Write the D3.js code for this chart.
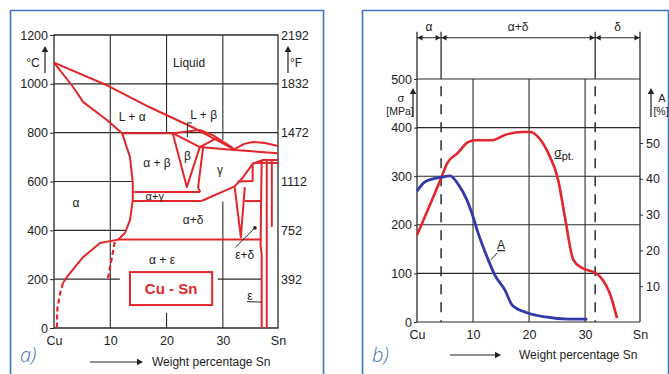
<!DOCTYPE html>
<html>
<head>
<meta charset="utf-8">
<script src="https://cdn.jsdelivr.net/npm/d3@7/dist/d3.min.js"></script>
<style>
  body { margin: 0; background: #fff; }
  svg { display: block; }
</style>
</head>
<body>
<svg id="fig"></svg>
<script>
const W = 669, H = 374;

// ---- panel a) Cu-Sn phase diagram (wt% Sn, °C) ----
const tempTicks = [0, 200, 400, 600, 800, 1000, 1200];
const fahrTemps = [200, 400, 600, 800, 1000, 1200];
const fahrLabels = ['392', '752', '1112', '1472', '1832', '2192'];
const wtTicks = [0, 10, 20, 30, 39.8];
const wtLabels = ['Cu', '10', '20', '30', 'Sn'];

// visible grid pieces: [T, wtFrom, wtTo] and [wt, Tfrom, Tto]
const gridH_a = [[1000, 0, 39.8], [800, 0, 39.8], [600, 0, 13.9], [400, 0, 12.6], [200, 0, 11.7], [200, 29.1, 36.9]];
const gridV_a = [[10, 0, 1200], [20, 800, 1200], [30, 770, 1200], [30, 0, 518]];

const phaseLines = [
  [[0, 1087], [9.6, 992], [17.1, 903], [25, 818], [32, 732]],                  // liquidus
  [[0, 1087], [3.4, 987], [5.2, 925], [9.4, 852], [12.1, 798]],                // solidus
  [[12.1, 798], [13.5, 700], [14.0, 594], [14.0, 524], [13.5, 442], [12.6, 389],
   [11.4, 362], [8.2, 348], [5.2, 291], [2.3, 209], [1.6, 184]],              // alpha solvus
  [[12.1, 798], [21.1, 798]],
  [[21.1, 798], [25.9, 811], [28.2, 790], [31.8, 737]],
  [[21.1, 798], [23.6, 577], [25.9, 741], [21.1, 798]],                        // beta
  [[26.5, 741], [25.6, 575], [26.0, 557]],
  [[25.9, 741], [28.9, 778]],
  [[25.9, 741], [32, 729], [39.8, 716]],
  [[32, 732], [33.8, 754], [35.3, 762], [37.5, 758], [39.8, 745]],
  [[14.0, 557], [25.9, 557]],
  [[14.0, 520], [26.2, 520]],
  [[26.2, 520], [32.1, 580], [33.5, 615], [35.3, 672], [37.1, 688], [39.8, 688]],
  [[35.3, 676], [39.8, 676]],
  [[32.1, 577], [33.2, 372], [33.9, 577]],                                     // delta wedge
  [[32.6, 600], [35.3, 602], [35.3, 672]],
  [[11.4, 362], [36.9, 362]],
  [[33.9, 520], [36.9, 520]],
  [[36.9, 0], [36.9, 300], [36.7, 340], [36.9, 688]],
  [[37.8, 0], [37.8, 688]],
  [[38.7, 414], [38.7, 688]]
];
const dashedLines = [
  [[1.6, 184], [1.1, 143], [0.6, 80], [0.5, 0]],
  [[10.8, 352], [9.6, 205]]
];
const phaseLabels = [
  ['Liquid', 24.0, 1085, 12], ['L + α', 13.9, 864, 12], ['L + β', 26.6, 872, 12], ['α + β', 18.3, 676, 12],
  ['β', 23.7, 705, 12], ['γ', 29.5, 647, 12], ['α', 3.9, 512, 12], ['α+γ', 17.9, 538, 11], ['α+δ', 24.7, 442, 12],
  ['α  +  ε', 19.2, 278, 12], ['ε+δ', 33.9, 300, 12], ['ε', 34.8, 130, 12]
];

// ---- panel b) properties ----
const sigmaTicks = [0, 100, 200, 300, 400, 500];
const aTicks = [10, 20, 30, 40, 50];
const phaseBounds = [4.3, 31.8];
const phaseNames = ['α', 'α+δ', 'δ'];
const sigmaWt = [0, 4.3, 5.4, 7.3, 9.1, 10.4, 13.4, 15.7, 18.8, 20.2, 21.6, 23.4, 25.2, 26.4, 27.9, 29.5, 31.8, 32.7, 34.5, 35.7];
const sigmaMPa = [179, 296, 327, 348, 370, 374, 374, 385, 391, 391, 381, 348, 292, 216, 128, 111, 101, 93, 56, 8];
const aWt = [0, 1.4, 4.5, 5.9, 7.3, 8.9, 9.8, 10.9, 12.5, 13.9, 15.7, 17.0, 19.8, 22.9, 27.0, 30.4];
const aPct = [36.5, 39.1, 40.5, 40.8, 38.6, 34.1, 30.4, 24.9, 18.2, 13.1, 8.9, 4.7, 2.5, 1.4, 0.8, 0.8];

const RED = '#e3262b', BLUE = '#3439a9', FRAME = '#3f74ba', INK = '#222', GRID = '#2b2b2b';
const FONT = '"Liberation Sans", Arial, sans-serif';

const svg = d3.select('#fig').attr('width', W).attr('height', H);
svg.append('rect').attr('width', W).attr('height', H).attr('fill', '#fff');

function arrowHead(g, x, y, dir, size) {
  const s = size || 5;
  let p;
  if (dir === 'up') p = [[x, y], [x - s * 0.55, y + s], [x + s * 0.55, y + s]];
  else if (dir === 'right') p = [[x, y], [x - s, y - s * 0.55], [x - s, y + s * 0.55]];
  else p = [[x, y], [x + s, y - s * 0.55], [x + s, y + s * 0.55]];
  g.append('path').attr('d', 'M' + p.join('L') + 'Z').attr('fill', INK);
}

function txt(g, x, y, s, anchor, size) {
  return g.append('text').attr('x', x).attr('y', y).attr('text-anchor', anchor || 'middle')
    .attr('dy', '0.35em').style('font-family', FONT).style('font-size', (size || 12) + 'px')
    .style('fill', INK).text(s);
}

function styleAxis(ax) {
  ax.select('.domain').remove();
  ax.selectAll('text').style('font-family', FONT).style('font-size', '12.5px').style('fill', INK);
  ax.selectAll('line').attr('stroke', GRID);
}

// ================= panel a =================
const ga = svg.append('g');
ga.append('path').attr('d', 'M10.5,374V10.5H323.5V374').attr('fill', 'none')
  .attr('stroke', FRAME).attr('stroke-width', 1.6);

const xa = d3.scaleLinear().domain([0, 39.8]).range([54, 278]);
const ya = d3.scaleLinear().domain([0, 1200]).range([328, 35]);

const gridA = ga.append('g').attr('stroke', GRID).attr('stroke-width', 1.1);
gridH_a.forEach(d => gridA.append('line').attr('x1', xa(d[1])).attr('x2', xa(d[2])).attr('y1', ya(d[0])).attr('y2', ya(d[0])));
gridV_a.forEach(d => gridA.append('line').attr('x1', xa(d[0])).attr('x2', xa(d[0])).attr('y1', ya(d[1])).attr('y2', ya(d[2])));
gridA.append('path').attr('fill', 'none').attr('stroke-width', 1.3)
  .attr('d', `M${xa(0)},${ya(0)}V${ya(1200)}H${xa(39.8)}V${ya(0)}H${xa(0)}`);

styleAxis(ga.append('g').attr('transform', `translate(${xa(0)},0)`)
  .call(d3.axisLeft(ya).tickValues(tempTicks).tickSize(4).tickPadding(2).tickFormat(d3.format('d'))));
styleAxis(ga.append('g').attr('transform', `translate(${xa(39.8)},0)`)
  .call(d3.axisRight(ya).tickValues(fahrTemps).tickSize(0).tickPadding(3)
    .tickFormat((d, i) => fahrLabels[i])));
styleAxis(ga.append('g').attr('transform', `translate(0,${ya(0) + 2})`)
  .call(d3.axisBottom(xa).tickValues(wtTicks).tickSize(0).tickPadding(6)
    .tickFormat((d, i) => wtLabels[i])));

// Cu - Sn box
ga.append('rect').attr('x', xa(13.5)).attr('y', ya(229)).attr('width', xa(28.1) - xa(13.5))
  .attr('height', ya(94) - ya(229)).attr('fill', '#fff').attr('stroke', RED).attr('stroke-width', 2);
ga.append('text').attr('x', (xa(13.5) + xa(28.1)) / 2).attr('y', ya(160)).attr('dy', '0.35em')
  .attr('text-anchor', 'middle').style('font-family', FONT).style('font-size', '15px')
  .style('font-weight', 'bold').style('fill', RED).text('Cu - Sn');
gridA.append('line').attr('x1', xa(20)).attr('x2', xa(20)).attr('y1', ya(62)).attr('y2', ya(0));

const lineA = d3.line().x(d => xa(d[0])).y(d => ya(d[1]));
const phase = ga.append('g').attr('fill', 'none').attr('stroke', RED).attr('stroke-width', 2)
  .attr('stroke-linejoin', 'round');
phaseLines.forEach(p => phase.append('path').attr('d', lineA(p)));
dashedLines.forEach(p => phase.append('path').attr('d', lineA(p)).attr('stroke-dasharray', '5,3').attr('stroke-width', 2.2));

phaseLabels.forEach(d => txt(ga, xa(d[1]), ya(d[2]), d[0], 'middle', d[3]));

// leaders
const lead = ga.append('g').attr('stroke', INK).attr('stroke-width', 1).attr('fill', 'none');
lead.append('path').attr('d', lineA([[23.7, 782], [23.7, 840], [24.5, 840]]));
lead.append('path').attr('d', lineA([[32.2, 330], [35.7, 410]]));
ga.append('circle').attr('cx', xa(35.7)).attr('cy', ya(410)).attr('r', 1.8).attr('fill', INK);
lead.append('path').attr('d', lineA([[34.3, 108], [36.9, 106]]));

// units
txt(ga, 33, 63, '°C', 'middle', 12);
ga.append('line').attr('x1', 45).attr('x2', 45).attr('y1', 73).attr('y2', 50).attr('stroke', INK).attr('stroke-width', 1.2);
arrowHead(ga, 45, 46, 'up', 6);
txt(ga, 296, 63, '°F', 'middle', 12);
ga.append('line').attr('x1', 288).attr('x2', 288).attr('y1', 73).attr('y2', 50).attr('stroke', INK).attr('stroke-width', 1.2);
arrowHead(ga, 288, 46, 'up', 6);

ga.append('text').attr('x', 20).attr('y', 362).style('font-family', '"Open Sans", Lato, sans-serif')
  .style('font-size', '20px').style('font-style', 'italic').style('font-weight', 300)
  .style('fill', FRAME).text('a)');
ga.append('line').attr('x1', 90).attr('x2', 138).attr('y1', 362).attr('y2', 362).attr('stroke', INK).attr('stroke-width', 1.2);
arrowHead(ga, 143, 362, 'right', 6);
txt(ga, 152, 362, 'Weight percentage Sn', 'start', 12);

// ================= panel b =================
const gb = svg.append('g');
gb.append('path').attr('d', 'M362.5,374V10.5H668.5V374').attr('fill', 'none')
  .attr('stroke', FRAME).attr('stroke-width', 1.6);

const xb = d3.scaleLinear().domain([0, 39.8]).range([417, 640]);
const ys = d3.scaleLinear().domain([0, 500]).range([322, 79]);
const yA = d3.scaleLinear().domain([0, 50]).range([322, 143]);

const gridB = gb.append('g').attr('stroke', GRID).attr('stroke-width', 1.1);
sigmaTicks.forEach(v => gridB.append('line').attr('x1', xb(0)).attr('x2', xb(39.8)).attr('y1', ys(v)).attr('y2', ys(v)));
[10, 20, 30].forEach(v => gridB.append('line').attr('x1', xb(v)).attr('x2', xb(v)).attr('y1', ys(0)).attr('y2', ys(500)));
const topY = ys(597), dimY = ys(585);
[0, 39.8].forEach(v => gridB.append('line').attr('x1', xb(v)).attr('x2', xb(v)).attr('y1', ys(0)).attr('y2', topY).attr('stroke-width', 1.3));
phaseBounds.forEach(v => {
  gridB.append('line').attr('x1', xb(v)).attr('x2', xb(v)).attr('y1', topY).attr('y2', ys(500)).attr('stroke-width', 1.3);
  gridB.append('line').attr('x1', xb(v)).attr('x2', xb(v)).attr('y1', ys(485)).attr('y2', ys(0))
    .attr('stroke-dasharray', '10,8').attr('stroke-width', 1.5);
});

// dimension line with phases
const edges = [0].concat(phaseBounds, [39.8]);
gridB.append('line').attr('x1', xb(0)).attr('x2', xb(39.8)).attr('y1', dimY).attr('y2', dimY);
edges.slice(0, -1).forEach((e, i) => {
  const a = xb(e), b = xb(edges[i + 1]);
  arrowHead(gb, a + 0.5, dimY, 'left', 5);
  arrowHead(gb, b - 0.5, dimY, 'right', 5);
  txt(gb, (a + b) / 2, 27, phaseNames[i], 'middle', 12);
});

styleAxis(gb.append('g').attr('transform', `translate(${xb(0)},0)`)
  .call(d3.axisLeft(ys).tickValues(sigmaTicks).tickSize(3).tickPadding(2)));
styleAxis(gb.append('g').attr('transform', `translate(${xb(39.8)},0)`)
  .call(d3.axisRight(yA).tickValues(aTicks).tickSize(3).tickPadding(3)));
styleAxis(gb.append('g').attr('transform', `translate(0,${ys(0) + 2})`)
  .call(d3.axisBottom(xb).tickValues(wtTicks).tickSize(0).tickPadding(6)
    .tickFormat((d, i) => wtLabels[i])));

// curves
const sigmaLine = d3.line().curve(d3.curveMonotoneX).x((d, i) => xb(sigmaWt[i])).y(d => ys(d));
const aLine = d3.line().curve(d3.curveMonotoneX).x((d, i) => xb(aWt[i])).y(d => yA(d));
gb.append('path').attr('d', sigmaLine(sigmaMPa)).attr('fill', 'none').attr('stroke', RED).attr('stroke-width', 2.6);
gb.append('path').attr('d', aLine(aPct)).attr('fill', 'none').attr('stroke', BLUE).attr('stroke-width', 2.8);

// curve labels
const sl = gb.append('text').attr('x', xb(24.5)).attr('y', ys(340)).style('font-family', FONT)
  .style('font-size', '12px').style('fill', INK);
sl.append('tspan').text('σ').style('text-decoration', 'underline');
sl.append('tspan').attr('dy', 3).style('font-size', '11px').text('pt.');
gb.append('text').attr('x', xb(14.3)).attr('y', ys(150)).style('font-family', FONT)
  .style('font-size', '12px').style('fill', INK).style('text-decoration', 'underline').text('A');
gb.append('line').attr('x1', xb(14.3)).attr('x2', xb(13.2)).attr('y1', ys(142)).attr('y2', ys(128))
  .attr('stroke', INK).attr('stroke-width', 1);

// axis units
txt(gb, 401, 98, 'σ', 'middle', 11);
txt(gb, 400, 111, '[MPa]', 'middle', 10.5);
gb.append('line').attr('x1', 413).attr('x2', 413).attr('y1', 117).attr('y2', 92).attr('stroke', INK).attr('stroke-width', 1.2);
arrowHead(gb, 413, 88, 'up', 6);
txt(gb, 662, 98, 'A', 'middle', 11);
txt(gb, 661, 111, '[%]', 'middle', 10.5);
gb.append('line').attr('x1', 651).attr('x2', 651).attr('y1', 117).attr('y2', 92).attr('stroke', INK).attr('stroke-width', 1.2);
arrowHead(gb, 651, 88, 'up', 6);

gb.append('text').attr('x', 372).attr('y', 362).style('font-family', '"Open Sans", Lato, sans-serif')
  .style('font-size', '20px').style('font-style', 'italic').style('font-weight', 300)
  .style('fill', FRAME).text('b)');
gb.append('line').attr('x1', 450).attr('x2', 496).attr('y1', 355).attr('y2', 355).attr('stroke', INK).attr('stroke-width', 1.2);
arrowHead(gb, 501, 355, 'right', 6);
txt(gb, 519, 355, 'Weight percentage Sn', 'start', 12);
</script>
</body>
</html>
